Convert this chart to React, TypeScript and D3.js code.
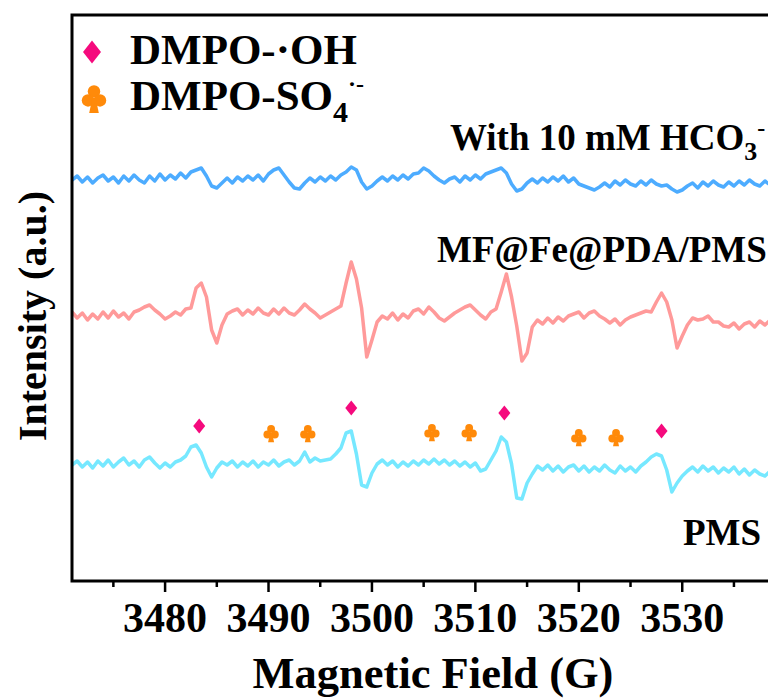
import React from 'react';
import * as d3 from 'd3';

// ---- data ----
const fieldStart = 3471; // G
const fieldStep = 0.5; // G per sample
const fieldDomain = [3471, 3541];
const majorTicks = [3480, 3490, 3500, 3510, 3520, 3530, 3540];
const tickLabels = [3480, 3490, 3500, 3510, 3520, 3530];
const minorTicks = [3475, 3485, 3495, 3505, 3515, 3525, 3535, 3545];

const seriesColors = ['#4DACFF', '#FF9A9A', '#76E8FF'];
const seriesOffsets = [401, 266, 116];

// With 10 mM HCO3- (deviation from offset, a.u.)
const hco3Dev = [
  0, 4, -2, 3, -3, 2, 5, -1, 3, -3,
  4, -1, 5, 0, -3, 4, -1, 6, 0, 5,
  1, 7, 2, 8, 10, 12, 4, -6, -8, -3,
  2, -3, 3, -1, 4, 0, 5, -1, 6, 10,
  12, 5, -2, -8, -9, -3, 2, -2, 3, -1,
  4, 0, 5, 8, 13, 10, -2, -9, -6, -1,
  3, -1, 4, 0, 5, 1, 6, 7, 12, 9,
  4, 0, -3, 1, 3, -2, 4, 0, 5, 1,
  6, 8, 10, 12, 7, -4, -11, -9, -3, 1,
  -3, 2, -2, 3, -1, 4, -2, 2, -4, -6,
  -8, -10, -7, -3, -7, -1, -5, 0, -4, -6,
  -1, -5, 0, -4, -6, -5, -9, -12, -10, -6,
  -3, -8, -2, -6, -1, -5, -7, -2, -6, -1,
  -5, 0, -4, -6, -1, -5, -2,
];

// MF@Fe@PDA/PMS
const mfDev = [
  3, -3, 2, -5, 1, -4, 3, -3, 4, -2,
  2, -4, 3, 5, 8, 10, 5, 1, -4, -1,
  3, 0, 6, 7, 27, 32, 18, -15, -28, -10,
  1, 4, 6, 0, 5, 1, 7, 2, 0, 6,
  1, 7, 2, 0, 5, 11, 6, 2, -3, 0,
  3, 6, 9, 32, 53, 36, 7, -42, -25, -7,
  -1, -4, 2, -5, 1, -3, 4, 6, 1, 8,
  3, -3, -6, -2, 2, 5, 8, 10, 5, 0,
  -4, 3, 6, 23, 41, 18, -11, -46, -38, -12,
  -5, -9, -3, -8, -2, -6, -1, 1, 3, -3,
  2, 4, -1, -4, -8, -4, -10, -5, -2, 0,
  2, 4, 3, 13, 22, 13, -5, -33, -21, -10,
  -3, -5, -4, -1, -7, -7, -11, -12, -8, -14,
  -9, -7, -12, -6, -10, -5, -9,
];

// PMS
const pmsDev = [
  0, 4, -2, 3, -3, 4, -1, 5, -2, 3,
  7, 0, 4, -2, 5, 8, 2, -3, 2, -2,
  3, 5, 9, 18, 20, 12, -2, -12, -3, 3,
  0, 4, -2, 3, -1, 4, -2, 3, 0, 5,
  -1, 3, 5, 0, 4, 13, 3, 7, 4, 5,
  6, 11, 17, 32, 34, 11, -20, -22, -8, 1,
  5, 0, 4, -2, 3, -1, 4, 0, 5, 1,
  6, 1, 5, 0, 4, -1, 3, -2, 2, -6,
  -4, 5, 14, 28, 23, 1, -33, -34, -18, -9,
  -1, -5, 0, -6, -1, -7, -2, 0, -6, -1,
  -7, -2, -6, 0, -5, -8, -1, -6, -2, -7,
  -1, 3, 8, 11, 9, -5, -27, -18, -11, -6,
  -2, -7, -1, -6, -2, -8, -3, -7, -2, -9,
  -4, -10, -5, -9, -11, -6, -10,
];

const seriesData = [hco3Dev, mfDev, pmsDev];

// markers on the PMS trace
const ohFields = [3483.3, 3498.0, 3512.8, 3528.0];
const ohValues = [155, 173, 168, 150];
const so4Fields = [3490.25, 3493.8, 3505.8, 3509.4, 3520.0, 3523.6];
const so4Values = [148, 148, 149, 149, 144, 144];

const ohColor = '#F50A7D';
const so4Color = '#FF8A0A';

// ---- layout ----
const W = 768;
const H = 698;
const left = 72;
const right = 796;
const top = 15;
const bottom = 581;
const FONT = "'Liberation Serif', 'Times New Roman', Times, serif";

function Diamond({ cx, cy, w, h, color }: { cx: number; cy: number; w: number; h: number; color: string }) {
  const d = `M${cx},${cy - h / 2} L${cx + w / 2},${cy} L${cx},${cy + h / 2} L${cx - w / 2},${cy} Z`;
  return <path d={d} fill={color} />;
}

function Club({ cx, cy, s, color }: { cx: number; cy: number; s: number; color: string }) {
  const r = 0.26 * s;
  return (
    <g transform={`translate(${cx},${cy})`} fill={color}>
      <circle cx={0} cy={-0.27 * s} r={r} />
      <circle cx={-0.25 * s} cy={0.1 * s} r={r} />
      <circle cx={0.25 * s} cy={0.1 * s} r={r} />
      <path d={`M${-0.07 * s},${0.0} L${-0.2 * s},${0.62 * s} L${0.2 * s},${0.62 * s} L${0.07 * s},${0.0} Z`} />
    </g>
  );
}

export default function App() {
  const x = d3.scaleLinear().domain(fieldDomain).range([left, right]);
  const y = d3.scaleLinear().domain([0, bottom - top]).range([bottom, top]);

  const paths = seriesData.map((arr, k) =>
    d3
      .line<number>()
      .x((_, i) => x(fieldStart + i * fieldStep))
      .y((d) => y(seriesOffsets[k] + d))(arr) as string
  );

  return (
    <svg
      width={W}
      height={H}
      viewBox={`0 0 ${W} ${H}`}
      style={{ position: 'absolute', left: 0, top: 0, background: '#fff' }}
      fontFamily={FONT}
    >
      <defs>
        <clipPath id="plotClip">
          <rect x={left} y={top} width={right - left} height={bottom - top} />
        </clipPath>
      </defs>
      <rect x={0} y={0} width={W} height={H} fill="#fff" />

      <g clipPath="url(#plotClip)">
        {paths.map((d, k) => (
          <path key={k} d={d} fill="none" stroke={seriesColors[k]} strokeWidth={3.5} strokeLinejoin="round" />
        ))}
      </g>

      {/* markers */}
      {ohFields.map((f, i) => (
        <Diamond key={'oh' + i} cx={x(f)} cy={y(ohValues[i])} w={12} h={15} color={ohColor} />
      ))}
      {so4Fields.map((f, i) => (
        <Club key={'so' + i} cx={x(f)} cy={y(so4Values[i])} s={15} color={so4Color} />
      ))}

      {/* frame */}
      <rect x={left} y={top} width={right - left} height={bottom - top} fill="none" stroke="#000" strokeWidth={3} />

      {/* ticks */}
      {majorTicks.map((t) => (
        <line key={'M' + t} x1={x(t)} x2={x(t)} y1={bottom} y2={bottom + 11} stroke="#000" strokeWidth={2.5} />
      ))}
      {minorTicks.map((t) => (
        <line key={'m' + t} x1={x(t)} x2={x(t)} y1={bottom} y2={bottom + 6} stroke="#000" strokeWidth={2.5} />
      ))}
      {tickLabels.map((t) => (
        <text key={'L' + t} x={x(t)} y={632} textAnchor="middle" fontSize={42} fontWeight="bold" fill="#000">
          {t}
        </text>
      ))}

      {/* axis titles */}
      <text x={433} y={688} textAnchor="middle" fontSize={44.5} fontWeight="bold" fill="#000">
        Magnetic Field (G)
      </text>
      <text
        transform={`translate(46,316) rotate(-90)`}
        textAnchor="middle"
        fontSize={40}
        fontWeight="bold"
        fill="#000"
      >
        Intensity (a.u.)
      </text>

      {/* legend */}
      <Diamond cx={92} cy={52} w={18} h={23} color={ohColor} />
      <Club cx={94} cy={98} s={24} color={so4Color} />
      <text x={130} y={64} fontSize={43} fontWeight="bold" fill="#000">
        DMPO-·OH
      </text>
      <text x={130} y={110} fontSize={43} fontWeight="bold" fill="#000">
        DMPO-SO
        <tspan fontSize={30} dy={12}>4</tspan>
        <tspan fontSize={24} dy={-30}>·-</tspan>
      </text>

      {/* series labels */}
      <text x={450} y={150} fontSize={37} fontWeight="bold" fill="#000">
        With 10 mM HCO
        <tspan fontSize={26} dy={10}>3</tspan>
        <tspan fontSize={24} dy={-24}>-</tspan>
      </text>
      <text x={437} y={262} fontSize={37} fontWeight="bold" fill="#000">
        MF@Fe@PDA/PMS
      </text>
      <text x={683} y={545} fontSize={37} fontWeight="bold" fill="#000">
        PMS
      </text>
    </svg>
  );
}
